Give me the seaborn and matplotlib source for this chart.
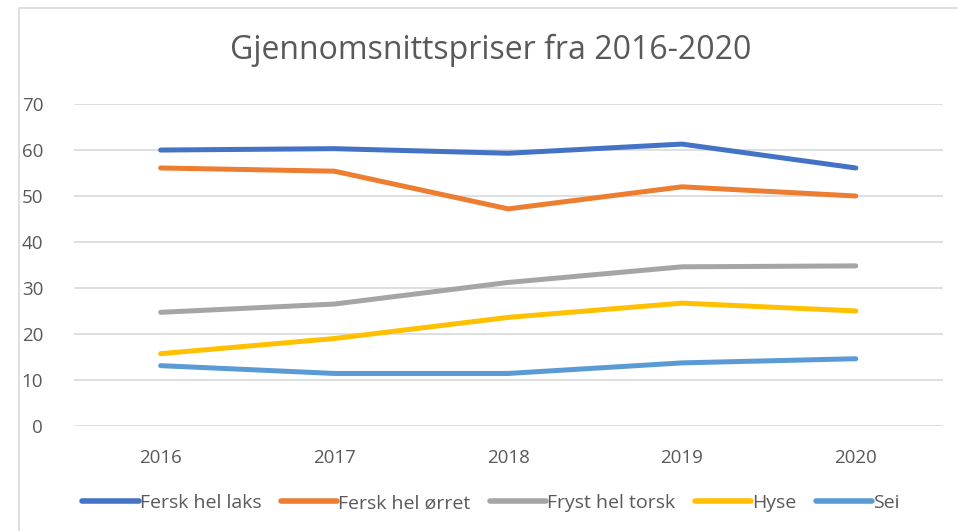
import matplotlib
matplotlib.use("Agg")
import matplotlib.pyplot as plt
import seaborn as sns
import pandas as pd

# Data
years = ["2016", "2017", "2018", "2019", "2020"]
laks = [60.0, 60.3, 59.3, 61.3, 56.1]
orret = [56.1, 55.4, 47.2, 52.0, 50.0]
torsk = [24.7, 26.5, 31.2, 34.6, 34.8]
hyse = [15.7, 19.0, 23.6, 26.7, 25.0]
sei = [13.1, 11.4, 11.4, 13.7, 14.6]

series_names = ["Fersk hel laks", "Fersk hel ørret", "Fryst hel torsk", "Hyse", "Sei"]
colors = ["#4472C4", "#ED7D31", "#A5A5A5", "#FFC000", "#5B9BD5"]

rows = []
for name, vals in zip(series_names, [laks, orret, torsk, hyse, sei]):
    for i, v in enumerate(vals):
        rows.append({"pos": i, "year": years[i], "serie": name, "pris": v})
df = pd.DataFrame(rows)

sns.set_style("white")
plt.rcParams["font.family"] = ["Open Sans", "DejaVu Sans"]

fig = plt.figure(figsize=(9.58, 5.31), dpi=100)
ax = fig.add_axes([0.077, 0.198, 0.907, 0.606])

sns.lineplot(data=df, x="pos", y="pris", hue="serie", hue_order=series_names,
             palette=colors, linewidth=3.6, ax=ax, legend=True)
for line in ax.get_lines():
    line.set_solid_capstyle("round")

ax.set_xlim(-0.5, 4.5)
ax.set_ylim(0, 70)
ax.set_xticks(range(len(years)))
ax.set_xticklabels(years)
ax.set_yticks(range(0, 71, 10))
ax.yaxis.grid(True, color="#D9D9D9", linewidth=1.2)
ax.set_axisbelow(True)
for s in ax.spines.values():
    s.set_visible(False)
ax.tick_params(axis="both", length=0, labelsize=13.5, colors="#595959")
ax.tick_params(axis="y", pad=22)
ax.tick_params(axis="x", pad=17)
ax.set_xlabel("")
ax.set_ylabel("")

fig.suptitle("Gjennomsnittspriser fra 2016-2020", x=0.512, y=0.905, va="center",
             fontsize=23, color="#595959")

handles, labels = ax.get_legend_handles_labels()
for h in handles:
    h.set_linewidth(4)
ax.legend(handles, labels, loc="center", bbox_to_anchor=(0.48, -0.24), ncol=5,
          frameon=False, fontsize=14, handlelength=2.9, handletextpad=0.05,
          columnspacing=1.0, labelcolor="#595959")

# chart border (left and top visible in the reference)
fig.add_artist(plt.Line2D([0.02, 0.02], [0, 0.985], color="#D9D9D9", linewidth=1.2))
fig.add_artist(plt.Line2D([0.02, 1.0], [0.985, 0.985], color="#D9D9D9", linewidth=1.2))

fig.savefig("out.png", dpi=100)
